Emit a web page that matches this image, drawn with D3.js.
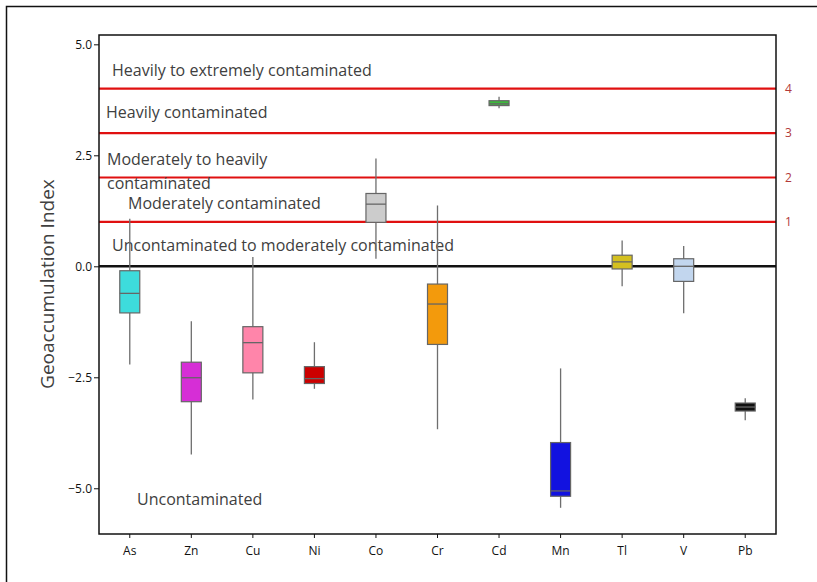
<!DOCTYPE html>
<html>
<head>
<meta charset="utf-8">
<script src="https://cdn.jsdelivr.net/npm/d3@7"></script>
<style>
  body { margin: 0; background: #fff; }
  svg { display: block; font-family: "Open Sans", "Noto Sans", sans-serif; }
</style>
</head>
<body>
<div id="chart"></div>
<script>
// element names and box stats
var elements = ["As", "Zn", "Cu", "Ni", "Co", "Cr", "Cd", "Mn", "Tl", "V", "Pb"];
var whiskerLow = [-2.21, -4.24, -3.00, -2.76, 0.17, -3.67, 3.56, -5.44, -0.45, -1.06, -3.47];
var boxLow     = [-1.05, -3.05, -2.40, -2.64, 0.99, -1.76, 3.62, -5.18, -0.06, -0.34, -3.26];
var medians    = [-0.61, -2.51, -1.72, -2.53, 1.40, -0.85, 3.66, -5.06, 0.10, 0.00, -3.17];
var boxHigh    = [-0.10, -2.16, -1.36, -2.26, 1.64, -0.40, 3.73, -3.97, 0.25, 0.17, -3.08];
var whiskerHigh = [1.07, -1.24, 0.21, -1.71, 2.43, 1.37, 3.82, -2.30, 0.58, 0.46, -2.97];
var colors = ["#3ddcdc", "#d62ed6", "#ff85aa", "#cc0000", "#cccccc", "#f39a0c",
              "#3cba3c", "#1212e0", "#d4c020", "#c2d6ee", "#111111"];

var yTicks = [5.0, 2.5, 0.0, -2.5, -5.0];
var classLevels = [1, 2, 3, 4];
var classLabels = [
  { text: ["Heavily to extremely contaminated"], v: 4.41, dx: 13 },
  { text: ["Heavily contaminated"], v: 3.46, dx: 7 },
  { text: ["Moderately to heavily", "contaminated"], v: 2.41, dx: 8 },
  { text: ["Moderately contaminated"], v: 1.41, dx: 29 },
  { text: ["Uncontaminated to moderately contaminated"], v: 0.47, dx: 13 },
  { text: ["Uncontaminated"], v: -5.26, dx: 38 }
];

function init() {
  var W = 817, H = 582;
  var m = { left: 99, right: 41, top: 35, bottom: 48 };
  var w = W - m.left - m.right;
  var h = H - m.top - m.bottom;

  var svg = d3.select("#chart").append("svg")
    .attr("width", W).attr("height", H);

  // outer frame (top + left edge visible)
  svg.append("path")
    .attr("d", "M6.5," + H + "V6.5H" + W)
    .attr("fill", "none").attr("stroke", "#111").attr("stroke-width", 1.5);

  var g = svg.append("g").attr("transform", "translate(" + m.left + "," + m.top + ")");

  var x = d3.scaleBand().domain(elements).range([0, w]);
  var y = d3.scaleLinear().domain([-6.03, 5.21]).range([h, 0]);

  // class threshold lines
  g.selectAll(".lvl").data(classLevels).enter().append("line")
    .attr("x1", 0).attr("x2", w)
    .attr("y1", d => y(d)).attr("y2", d => y(d))
    .attr("stroke", "#e01010").attr("stroke-width", 2.2);

  g.selectAll(".lvlLabel").data(classLevels).enter().append("text")
    .attr("x", w + 9).attr("y", d => y(d)).attr("dy", "0.35em")
    .attr("fill", "#b23a3a").style("font-size", "12px")
    .text(d => d);

  // zero line
  g.append("line")
    .attr("x1", 0).attr("x2", w).attr("y1", y(0)).attr("y2", y(0))
    .attr("stroke", "#111").attr("stroke-width", 2.5);

  // class text labels
  classLabels.forEach(function (c) {
    c.text.forEach(function (t, i) {
      g.append("text")
        .attr("x", c.dx).attr("y", y(c.v) + i * 24).attr("dy", "0.35em")
        .attr("fill", "#404040").style("font-size", "16px")
        .text(t);
    });
  });

  // boxes
  var bw = 20;
  var boxes = g.selectAll(".box").data(elements).enter().append("g")
    .attr("transform", d => "translate(" + (x(d) + x.bandwidth() / 2) + ",0)");

  boxes.append("line")
    .attr("y1", (d, i) => y(whiskerHigh[i])).attr("y2", (d, i) => y(whiskerLow[i]))
    .attr("stroke", "#6e6e6e").attr("stroke-width", 1.3);

  boxes.append("rect")
    .attr("x", -bw / 2).attr("width", bw)
    .attr("y", (d, i) => y(boxHigh[i]))
    .attr("height", (d, i) => y(boxLow[i]) - y(boxHigh[i]))
    .attr("fill", (d, i) => colors[i])
    .attr("stroke", "#666").attr("stroke-width", 1.2);

  boxes.append("line")
    .attr("x1", -bw / 2).attr("x2", bw / 2)
    .attr("y1", (d, i) => y(medians[i])).attr("y2", (d, i) => y(medians[i]))
    .attr("stroke", "#666").attr("stroke-width", 1.3);

  // plot frame
  g.append("rect").attr("width", w).attr("height", h)
    .attr("fill", "none").attr("stroke", "#111").attr("stroke-width", 1.5);

  // axes
  var yAxis = g.append("g")
    .call(d3.axisLeft(y).tickValues(yTicks).tickFormat(d3.format(".1f")).tickSize(5).tickPadding(2));
  yAxis.select(".domain").remove();
  yAxis.selectAll("line").attr("stroke", "#111");
  yAxis.selectAll("text").attr("fill", "#111").style("font-size", "12px")
    .style("font-family", "Open Sans, sans-serif");

  var xAxis = g.append("g").attr("transform", "translate(0," + h + ")")
    .call(d3.axisBottom(x).tickSize(4).tickPadding(8));
  xAxis.select(".domain").remove();
  xAxis.selectAll("line").attr("stroke", "#111");
  xAxis.selectAll("text").attr("fill", "#111").style("font-size", "12px")
    .style("font-family", "Open Sans, sans-serif");

  svg.append("text")
    .attr("transform", "translate(54," + (m.top + y(-0.4)) + ") rotate(-90)")
    .attr("text-anchor", "middle")
    .attr("fill", "#404040").style("font-size", "19px")
    .text("Geoaccumulation Index");
}
window.onload = init;
</script>
</body>
</html>
